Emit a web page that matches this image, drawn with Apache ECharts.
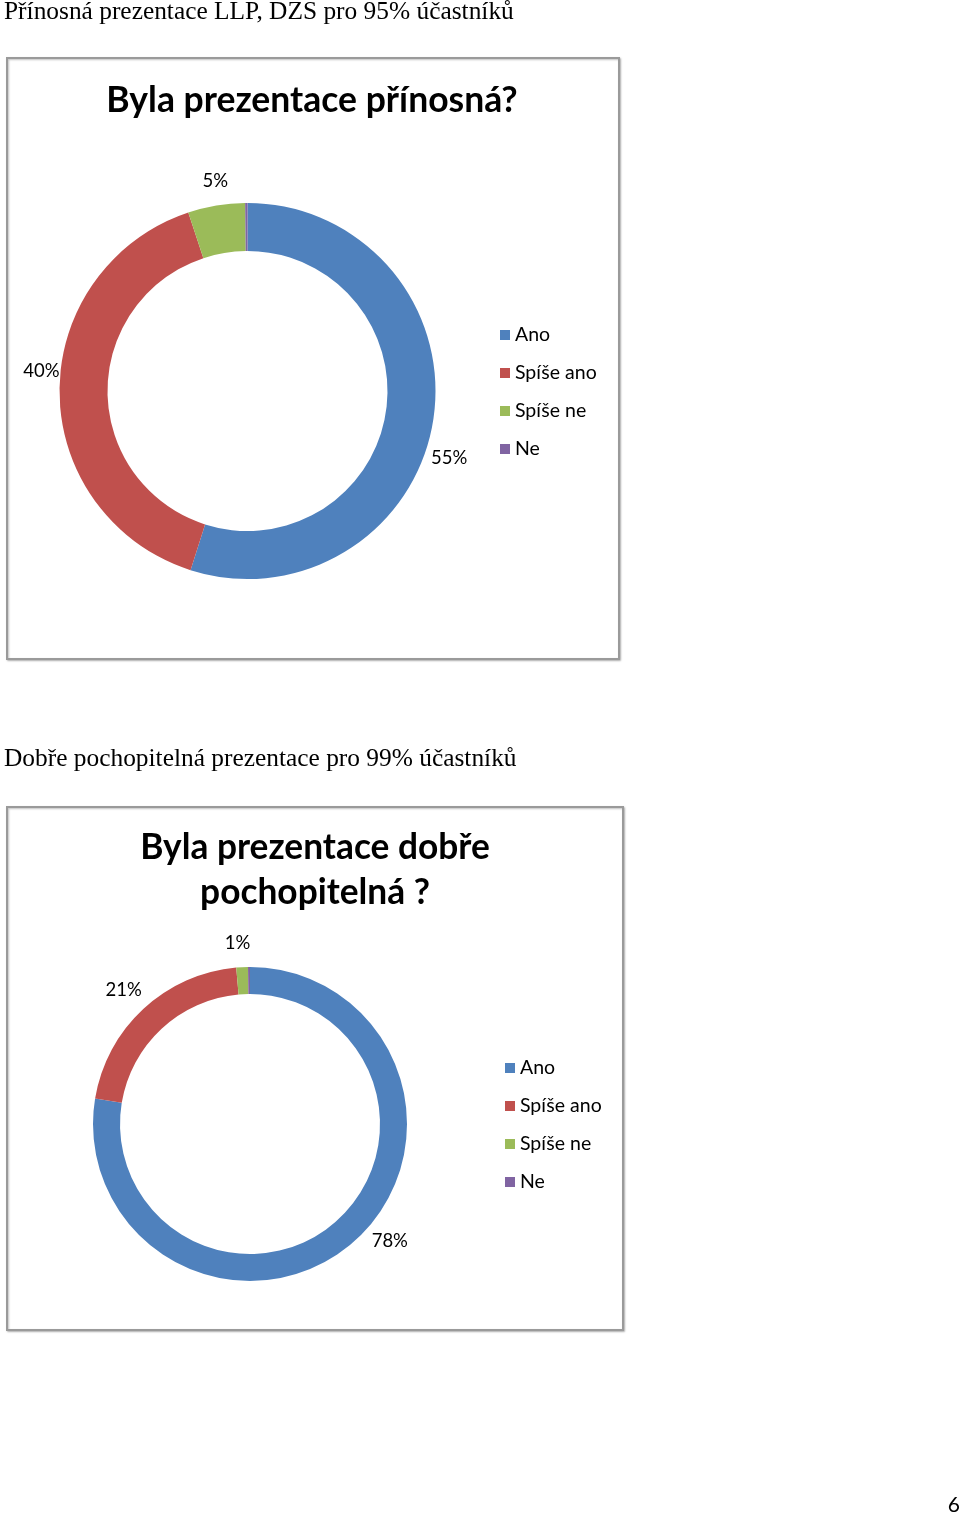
<!DOCTYPE html>
<html>
<head>
<meta charset="utf-8">
<script src="https://cdn.jsdelivr.net/npm/echarts@6/dist/echarts.min.js"></script>
<style>
html,body{margin:0;padding:0;background:#fff;}
#c{width:960px;height:1515px;}
</style>
</head>
<body>
<div id="c"></div>
<script>
const categories = ['Ano', 'Spíše ano', 'Spíše ne', 'Ne'];
const values1 = [54.9, 40.0, 4.9, 0.2];
const values2 = [77.6, 21.0, 1.2, 0.2];
const heading1 = 'Přínosná prezentace LLP, DZS pro 95% účastníků';
const heading2 = 'Dobře pochopitelná prezentace pro 99% účastníků';
const title1 = 'Byla prezentace přínosná?';
const title2 = 'Byla prezentace dobře\npochopitelná ?';
const pageNumber = '6';
const colors = ['#4F81BD', '#C0504D', '#9BBB59', '#8064A2'];

// label nudges (style only) per series / data index, to mimic Excel placement
const labelNudge = [
  [[-21, 36], [19, -21], [19, -11], [0, 0]],
  [[6, -13], [13, -9], [14, -10], [0, 0]]
];

const SANS = 'Lato, "Open Sans", sans-serif';
const SERIF = '"Liberation Serif", "Times New Roman", serif';

function buildData(vals) {
  return categories.map((n, i) => ({
    name: n,
    value: vals[i],
    label: { show: vals[i] >= 0.5 }
  }));
}

const labelLayout = function (p) {
  const o = labelNudge[p.seriesIndex][p.dataIndex];
  return { dx: o[0], dy: o[1] };
};

const chart = echarts.init(document.getElementById('c'), null, { renderer: 'canvas' });
chart.setOption({
  backgroundColor: '#fff',
  animation: false,
  color: colors,
  graphic: [
    { type: 'rect', shape: { x: 7, y: 58, width: 612, height: 601 }, style: { fill: '#fff', stroke: '#9a9a9a', lineWidth: 2, shadowBlur: 2, shadowColor: 'rgba(0,0,0,0.25)', shadowOffsetX: 1, shadowOffsetY: 1 }, z: -10 },
    { type: 'rect', shape: { x: 7, y: 807, width: 616, height: 523 }, style: { fill: '#fff', stroke: '#9a9a9a', lineWidth: 2, shadowBlur: 2, shadowColor: 'rgba(0,0,0,0.25)', shadowOffsetX: 1, shadowOffsetY: 1 }, z: -10 },
    { type: 'text', right: 0, top: 1495, style: { text: pageNumber, font: '21px ' + SANS, fill: '#000' } }
  ],
  title: [
    { text: heading1, left: 4, top: 0, padding: 0, textStyle: { fontFamily: SERIF, fontSize: 25.4, fontWeight: 'normal', color: '#000' } },
    { text: heading2, left: 4, top: 747, padding: 0, textStyle: { fontFamily: SERIF, fontSize: 25.4, fontWeight: 'normal', color: '#000' } },
    { text: title1, left: 312, textAlign: 'center', top: 83, padding: 0, textStyle: { fontFamily: SANS, fontSize: 35.5, fontWeight: 'bold', color: '#000' } },
    { text: title2, left: 315, textAlign: 'center', top: 825, padding: 0, textStyle: { fontFamily: SANS, fontSize: 35.3, fontWeight: 'bold', color: '#000', lineHeight: 45 } }
  ],
  legend: [
    { seriesIndex: 0, data: categories, orient: 'vertical', left: 500, top: 325, padding: 0, icon: 'rect', itemWidth: 10, itemHeight: 10, itemGap: 18,
      textStyle: { fontFamily: SANS, fontSize: 19.5, color: '#000', lineHeight: 20 }, selectedMode: false },
    { data: categories, orient: 'vertical', left: 505, top: 1058, padding: 0, icon: 'rect', itemWidth: 10, itemHeight: 10, itemGap: 18,
      textStyle: { fontFamily: SANS, fontSize: 19.5, color: '#000', lineHeight: 20 }, selectedMode: false }
  ],
  series: [
    {
      type: 'pie', center: [247.5, 391], radius: [140, 188], startAngle: 90, clockwise: true,
      avoidLabelOverlap: false,
      label: { position: 'outside', formatter: p => Math.round(p.value) + '%', fontFamily: SANS, fontSize: 18.5, color: '#000' },
      labelLine: { show: false, length: 14, length2: 0 },
      labelLayout: labelLayout,
      itemStyle: { borderWidth: 0 },
      emphasis: { disabled: true },
      data: buildData(values1)
    },
    {
      type: 'pie', center: [250, 1124], radius: [130, 157], startAngle: 90, clockwise: true,
      avoidLabelOverlap: false,
      label: { position: 'outside', formatter: p => Math.round(p.value) + '%', fontFamily: SANS, fontSize: 18.5, color: '#000' },
      labelLine: { show: false, length: 14, length2: 0 },
      labelLayout: labelLayout,
      itemStyle: { borderWidth: 0 },
      emphasis: { disabled: true },
      data: buildData(values2)
    }
  ]
});
</script>
</body>
</html>
